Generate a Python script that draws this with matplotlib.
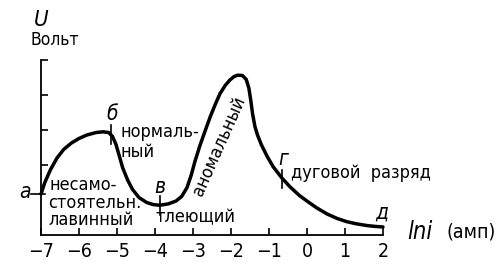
import matplotlib
matplotlib.use("Agg")
import matplotlib.pyplot as plt

plt.rcParams['font.family'] = ['DejaVu Sans']
plt.rcParams['font.stretch'] = 'condensed'

# data
x_vals = [-7.0, -6.9, -6.75, -6.58, -6.4, -6.2, -6.0, -5.79, -5.55, -5.37, -5.22,
          -5.12, -5.03, -4.95, -4.85, -4.72, -4.59, -4.42, -4.22, -4.05, -3.88,
          -3.65, -3.45, -3.3, -3.16, -3.05, -2.95, -2.82, -2.68, -2.55, -2.42, -2.29,
          -2.15, -2.03, -1.92, -1.82, -1.7, -1.6, -1.53, -1.48, -1.43, -1.37, -1.3,
          -1.2, -1.05, -0.89, -0.66, -0.45, -0.2, 0.0, 0.25, 0.53, 0.8, 1.05, 1.3,
          1.58, 1.8, 2.0]
u_vals = [1.17, 1.5, 1.87, 2.2, 2.45, 2.63, 2.76, 2.86, 2.93, 2.95, 2.93,
          2.82, 2.6, 2.3, 1.92, 1.57, 1.3, 1.07, 0.93, 0.87, 0.85,
          0.89, 0.97, 1.1, 1.35, 1.7, 2.1, 2.55, 2.98, 3.37, 3.72, 4.04,
          4.28, 4.43, 4.53, 4.57, 4.56, 4.45, 4.2, 3.85, 3.45, 3.1, 2.85,
          2.58, 2.25, 1.95, 1.63, 1.38, 1.13, 0.97, 0.78, 0.6, 0.47, 0.38, 0.32,
          0.27, 0.245, 0.23]
x_ticks = [-7, -6, -5, -4, -3, -2, -1, 0, 1, 2]
y_ticks = [2, 3, 4, 5]
point_labels = ['а', 'б', 'в', 'г', 'д']
point_x = [-7.0, -5.15, -3.88, -0.67, 2.0]
point_u = [1.17, 2.88, 0.85, 1.6, 0.23]

fig = plt.figure(figsize=(5.0, 2.72), dpi=100)
ax = fig.add_axes([0.082, 0.136, 0.684, 0.643])
ax.set_xlim(-7, 2)
ax.set_ylim(0, 5)
ax.plot(x_vals, u_vals, color='black', lw=2.5, solid_capstyle='round',
        solid_joinstyle='round', clip_on=False)

for s in ['top', 'right']:
    ax.spines[s].set_visible(False)
for s in ['left', 'bottom']:
    ax.spines[s].set_linewidth(1.3)

ax.set_xticks(x_ticks)
ax.set_xticklabels([('\u2212' + str(-t)) if t < 0 else str(t) for t in x_ticks])
ax.set_yticks(y_ticks)
ax.set_yticklabels([])
ax.tick_params(axis='both', direction='in', length=5, width=1.2, labelsize=14, pad=5)

# point markers
ax.plot([-7.25, -6.9], [point_u[0], point_u[0]], color='black', lw=1.2, clip_on=False)
for px, pu in zip(point_x[1:4], point_u[1:4]):
    ax.plot([px, px], [pu - 0.27, pu + 0.27], color='black', lw=1.2, clip_on=False)

it = dict(style='italic', fontsize=15, ha='center', va='center')
ax.text(-7.42, point_u[0] + 0.05, point_labels[0], **it)
ax.text(-5.12, 3.45, point_labels[1], **it)
ax.text(-3.88, 1.37, point_labels[2], **it)
ax.text(-0.62, 2.16, point_labels[3], **it)
ax.text(1.98, 0.65, point_labels[4], **it)

fs = 13
ax.text(-6.77, 1.43, 'несамо-', fontsize=fs, ha='left', va='center')
ax.text(-6.8, 0.92, 'стоятельн.', fontsize=fs, ha='left', va='center')
ax.text(-6.8, 0.42, 'лавинный', fontsize=fs, ha='left', va='center')
ax.text(-4.92, 2.95, 'нормаль-', fontsize=fs, ha='left', va='center')
ax.text(-4.92, 2.37, 'ный', fontsize=fs, ha='left', va='center')
ax.text(-3.98, 0.5, 'тлеющий', fontsize=fs, ha='left', va='center')
ax.text(-2.32, 2.55, 'аномальный', fontsize=fs, ha='center', va='center', rotation=66)
ax.text(-0.43, 1.78, 'дуговой  разряд', fontsize=fs, ha='left', va='center')

fig.text(0.082, 0.925, 'U', style='italic', fontsize=16, ha='center', va='center')
fig.text(0.11, 0.853, 'Вольт', fontsize=12.5, ha='center', va='center')
fig.text(0.815, 0.147, 'lni', style='italic', fontsize=17, ha='left', va='center')
fig.text(0.893, 0.147, '(амп)', fontsize=14, ha='left', va='center')

fig.savefig('out.png', dpi=100)
